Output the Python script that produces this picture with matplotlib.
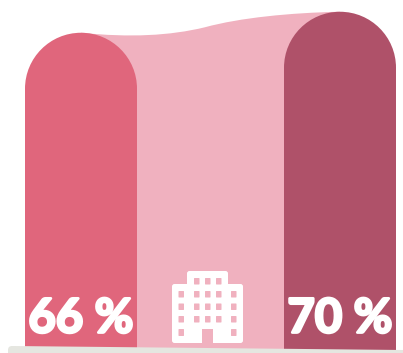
import matplotlib
matplotlib.use("Agg")
import matplotlib.pyplot as plt
import matplotlib.patheffects as pe
from matplotlib.path import Path
from matplotlib.patches import PathPatch, FancyBboxPatch, Rectangle
from matplotlib.transforms import Affine2D, blended_transform_factory

labels = ["66 %", "70 %"]
values = [66, 70]
colors = ["#E0667C", "#AF5169"]
band_color = "#F0B1BF"
ground_color = "#E5E6E0"

W, H = 403, 353
fig = plt.figure(figsize=(W / 100, H / 100), dpi=100)
ax = fig.add_axes([0, 0, 1, 1])
ax.set_axis_off()
px_per_cat = 259.0
px_per_val = 5.25
ax.set_xlim(-81.0 / px_per_cat, (W - 81.0) / px_per_cat)
ax.set_ylim(5.0, 5.0 + H / px_per_val)
px = Affine2D().scale(1, -1).translate(0, H)

half = 56.0 / px_per_cat
rx = half
ry = 56.0 / px_per_val
k = 0.5523
base = 0.0

# connecting band
x0, x1 = 0, 1
y0, y1 = values
band = Path(
    [(x0, base), (x0, y0),
     (x0 + 49 / px_per_cat, y0 - 5 / px_per_val), (x0 + 89 / px_per_cat, y0 - 3 / px_per_val), (x0 + 124 / px_per_cat, y0 + 5.5 / px_per_val),
     (x0 + 159 / px_per_cat, y0 + 15 / px_per_val), (x0 + 209 / px_per_cat, y1 - 1 / px_per_val), (x1, y1),
     (x1, base), (x0, base)],
    [Path.MOVETO, Path.LINETO, Path.CURVE4, Path.CURVE4, Path.CURVE4,
     Path.CURVE4, Path.CURVE4, Path.CURVE4, Path.LINETO, Path.CLOSEPOLY])
ax.add_patch(PathPatch(band, fc=band_color, ec="none", zorder=1))

# rounded-top bars
for xc, v, c in zip([0, 1], values, colors):
    verts = [(xc - half, base), (xc - half, v - ry),
             (xc - half, v - ry + k * ry), (xc - k * rx, v), (xc, v),
             (xc + k * rx, v), (xc + half, v - ry + k * ry), (xc + half, v - ry),
             (xc + half, base), (xc - half, base)]
    codes = [Path.MOVETO, Path.LINETO, Path.CURVE4, Path.CURVE4, Path.CURVE4,
             Path.CURVE4, Path.CURVE4, Path.CURVE4, Path.LINETO, Path.CLOSEPOLY]
    ax.add_patch(PathPatch(Path(verts, codes), fc=c, ec="none", zorder=2))

# ground
gv = [(12, 346), (403, 350), (403, 353), (8, 353), (8, 350), (8, 346), (12, 346)]
gc = [Path.MOVETO, Path.LINETO, Path.LINETO, Path.LINETO, Path.LINETO, Path.CURVE3, Path.CURVE3]
ax.add_patch(PathPatch(Path(gv, gc), fc=ground_color, ec="none", zorder=3, transform=px))

# building icon
def rrect(x, y, w, h, r, c, z):
    ax.add_patch(FancyBboxPatch((x + r, y + r), w - 2 * r, h - 2 * r,
                                boxstyle=f"round,pad={r},rounding_size={r}",
                                fc=c, ec="none", zorder=z, transform=px))

rrect(187, 271, 41, 30, 2.5, "white", 4)
rrect(172, 284, 71, 59, 2.5, "white", 4)
ax.add_patch(Rectangle((202, 329), 11, 15, fc=band_color, ec="none", zorder=5, transform=px))
for wx in [194, 205, 216]:
    rrect(wx, 278, 5.5, 6.5, 0.6, band_color, 5)
for wy in [291, 303.5, 316]:
    for wx in [178.5, 194, 205, 216, 231]:
        rrect(wx, wy, 5.5, 6.5, 0.6, band_color, 5)
for wx in [178.5, 231]:
    rrect(wx, 329, 5.5, 7, 0.6, band_color, 5)

# labels
text_tr = blended_transform_factory(ax.transData, px)
for xc, lab in zip([0, 1], labels):
    ax.text(xc, 332.5, lab, color="white", ha="center", va="baseline",
            fontsize=34, fontweight="bold", family="Lato", zorder=6,
            transform=text_tr,
            path_effects=[pe.withStroke(linewidth=2.0, foreground="white")])

fig.savefig("out.png", dpi=100)
